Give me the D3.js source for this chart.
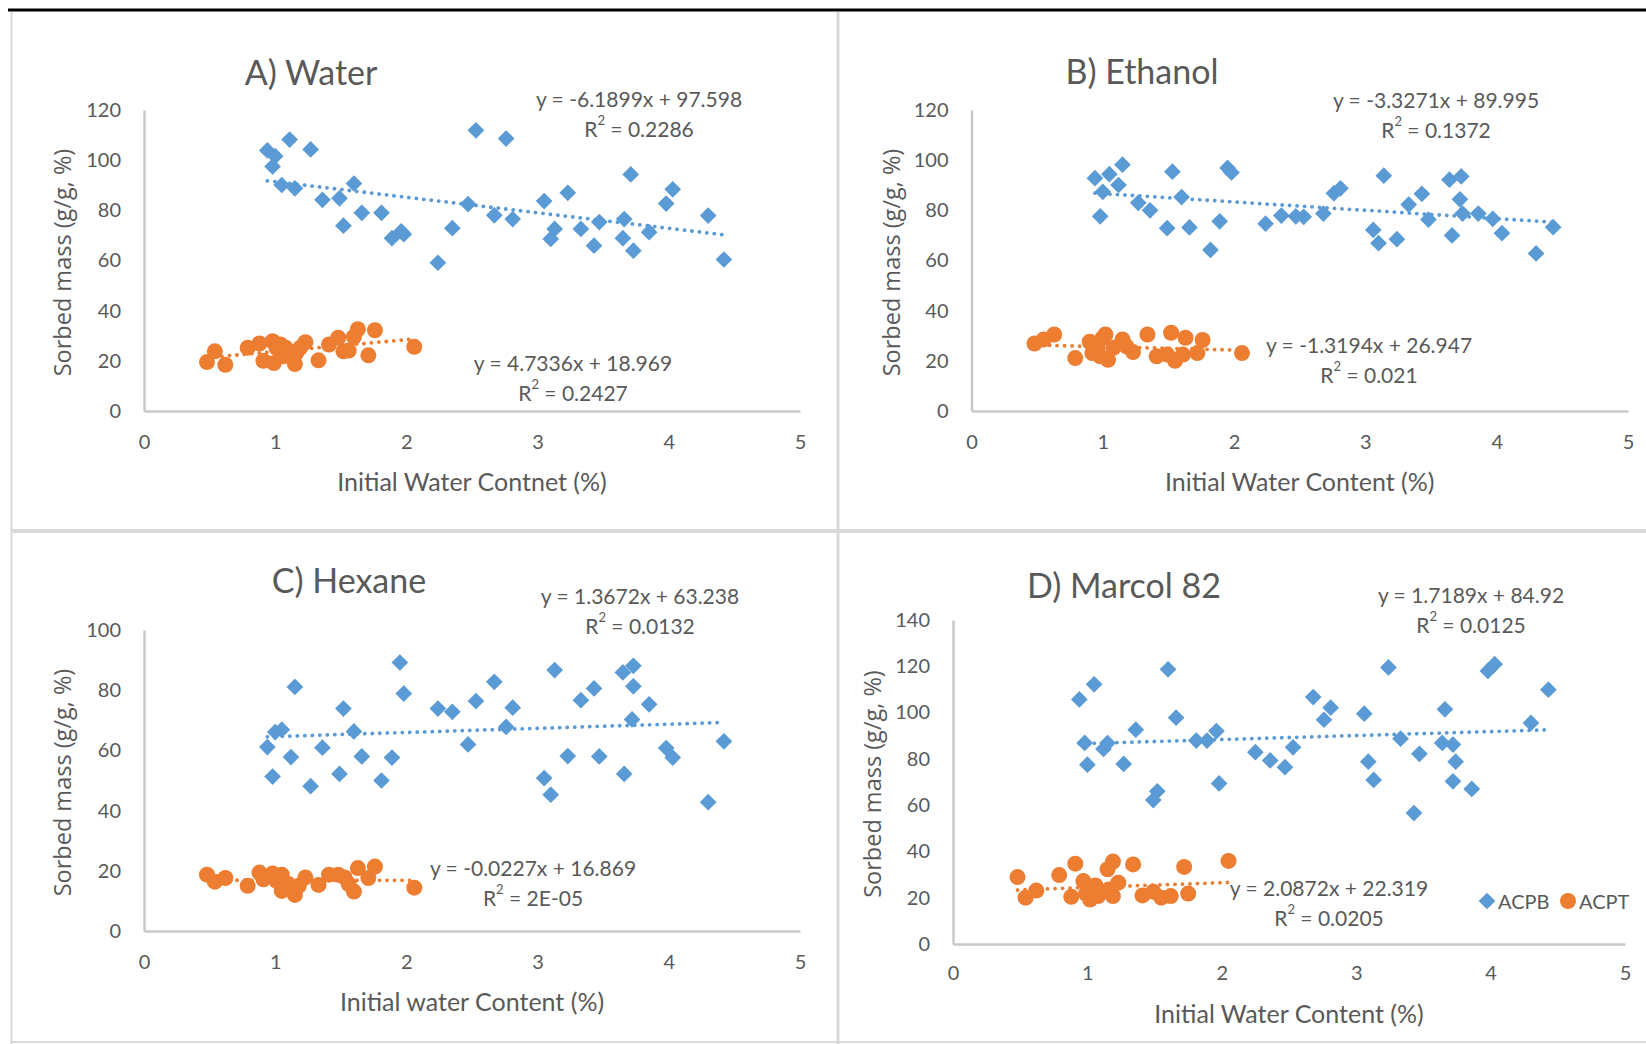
<!DOCTYPE html>
<html>
<head>
<meta charset="utf-8">
<script src="https://cdnjs.cloudflare.com/ajax/libs/d3/7.8.5/d3.min.js"></script>
<style>
  body { margin: 0; background: #fff; }
  svg { display: block; }
</style>
</head>
<body>
<svg id="chart" width="1646" height="1044"></svg>
<script>

// ---- data: [initial water content (%), sorbed mass (g/g, %)] ----

var waterACPB = [[0.94,103.9],[1.00,101.6],[0.98,97.5],[1.11,108.2],[1.27,104.3],[1.05,90.1],[1.15,88.8],
	[1.36,84.2],[1.49,84.8],[1.60,90.7],[1.52,73.9],[1.66,79.0],[1.81,79.0],[1.89,68.9],[1.96,71.6],
	[1.98,70.5],[2.24,59.1],[2.35,72.9],[2.47,82.5],[2.53,111.9],[2.76,108.6],[2.67,78.0],[2.81,76.5],
	[3.05,83.7],[3.10,68.6],[3.13,72.6],[3.23,87.0],[3.33,72.6],[3.43,65.9],[3.47,75.3],[3.65,68.9],
	[3.66,76.5],[3.71,94.3],[3.73,63.9],[3.85,71.3],[3.98,82.7],[4.03,88.4],[4.30,77.9],[4.42,60.4]];
var waterACPT = [[0.48,19.5],[0.54,23.8],[0.62,18.4],[0.79,25.2],[0.88,26.9],[0.91,20.0],[0.98,27.8],
	[0.99,19.1],[1.01,25.2],[1.04,26.5],[1.06,21.8],[1.08,25.2],[1.15,18.7],[1.16,23.1],[1.19,25.2],
	[1.23,27.4],[1.33,20.2],[1.41,26.5],[1.48,29.2],[1.52,23.8],[1.56,24.1],[1.60,29.6],[1.63,32.6],
	[1.71,22.2],[1.76,32.2],[2.06,25.6]];

var ethanolACPB = [[0.94,92.8],[1.00,87.4],[0.98,77.6],[1.05,94.4],[1.12,90.1],[1.15,98.2],[1.27,83.0],
	[1.36,80.0],[1.49,72.9],[1.53,95.4],[1.60,85.3],[1.66,73.2],[1.82,64.2],[1.89,75.6],[1.95,96.9],
	[1.98,95.1],[2.24,74.7],[2.36,77.9],[2.47,77.6],[2.53,77.4],[2.68,78.7],[2.76,86.8],[2.81,88.8],
	[3.06,72.2],[3.10,66.9],[3.14,93.8],[3.24,68.5],[3.33,82.3],[3.43,86.6],[3.48,76.3],[3.64,92.2],
	[3.66,70.0],[3.73,93.5],[3.72,84.4],[3.74,78.7],[3.86,78.7],[3.97,76.6],[4.04,70.9],[4.30,62.8],
	[4.43,73.3]];
var ethanolACPT = [[0.48,26.9],[0.55,28.5],[0.63,30.5],[0.79,21.1],[0.90,27.6],[0.92,23.1],[0.96,25.2],
	[0.98,21.8],[1.00,29.2],[1.02,30.5],[1.04,20.4],[1.08,25.2],[1.15,28.5],[1.18,25.8],[1.23,23.5],
	[1.34,30.5],[1.41,21.8],[1.49,22.5],[1.52,31.2],[1.55,20.0],[1.61,22.5],[1.63,29.2],[1.72,23.1],
	[1.76,28.3],[2.06,23.1]];

var hexaneACPB = [[0.94,61.1],[0.98,51.3],[1.00,66.1],[1.05,66.9],[1.12,57.8],[1.15,81.1],[1.27,48.1],
	[1.36,60.9],[1.49,52.2],[1.52,73.9],[1.60,66.3],[1.66,58.0],[1.81,50.0],[1.89,57.6],[1.95,89.2],
	[1.98,78.9],[2.24,73.9],[2.35,72.8],[2.47,62.0],[2.53,76.4],[2.67,82.8],[2.76,67.8],[2.81,74.2],
	[3.05,50.8],[3.10,45.3],[3.13,86.7],[3.23,58.1],[3.33,76.7],[3.43,80.6],[3.47,58.0],[3.65,85.9],
	[3.66,52.2],[3.73,88.1],[3.73,81.3],[3.72,70.3],[3.85,75.3],[3.98,60.8],[4.03,57.6],[4.30,42.8],
	[4.42,63.0]];
var hexaneACPT = [[0.48,18.7],[0.54,16.4],[0.62,17.6],[0.79,15.0],[0.88,19.4],[0.91,17.2],[0.98,19.1],
	[1.05,18.7],[1.01,16.7],[1.05,13.3],[1.10,15.6],[1.15,12.0],[1.18,15.0],[1.23,17.8],[1.33,15.3],
	[1.41,18.7],[1.48,18.7],[1.53,17.8],[1.56,15.6],[1.60,13.1],[1.63,20.9],[1.71,17.6],[1.76,21.4],
	[2.06,14.4]];

var marcolACPB = [[0.94,105.7],[0.98,86.9],[1.00,77.5],[1.05,112.2],[1.12,84.3],[1.15,86.8],[1.27,77.8],
	[1.36,92.6],[1.49,62.2],[1.52,66.0],[1.60,118.7],[1.66,97.8],[1.81,87.9],[1.89,87.9],[1.96,92.0],
	[1.98,69.4],[2.25,82.9],[2.36,79.3],[2.47,76.4],[2.53,85.0],[2.68,106.7],[2.76,96.9],[2.81,102.1],
	[3.06,99.5],[3.09,78.8],[3.13,70.9],[3.24,119.5],[3.33,88.7],[3.43,56.6],[3.47,82.2],[3.64,86.9],
	[3.66,101.4],[3.72,86.2],[3.74,78.8],[3.72,70.3],[3.86,67.0],[3.98,118.0],[4.03,120.9],[4.30,95.5],
	[4.43,109.9]];
var marcolACPT = [[0.48,28.9],[0.54,20.0],[0.62,23.1],[0.79,29.8],[0.88,20.4],[0.91,34.7],[0.97,27.2],
	[0.99,21.7],[1.02,19.2],[1.06,25.3],[1.08,20.7],[1.15,32.3],[1.19,35.6],[1.16,23.6],[1.19,20.7],
	[1.23,26.5],[1.34,34.4],[1.41,21.0],[1.49,22.6],[1.55,20.0],[1.62,20.7],[1.72,33.3],[1.75,21.8],
	[2.05,35.9]];

// linear trendlines as printed on the chart: [slope, intercept, slope text, intercept text, R2 text]
var waterTrendB   = [-6.1899, 97.598, "-6.1899", "97.598", "0.2286"];
var waterTrendT   = [4.7336, 18.969, "4.7336", "18.969", "0.2427"];
var ethanolTrendB = [-3.3271, 89.995, "-3.3271", "89.995", "0.1372"];
var ethanolTrendT = [-1.3194, 26.947, "-1.3194", "26.947", "0.021"];
var hexaneTrendB  = [1.3672, 63.238, "1.3672", "63.238", "0.0132"];
var hexaneTrendT  = [-0.0227, 16.869, "-0.0227", "16.869", "2E-05"];
var marcolTrendB  = [1.7189, 84.92, "1.7189", "84.92", "0.0125"];
var marcolTrendT  = [2.0872, 22.319, "2.0872", "22.319", "0.0205"];

var xTicks = [0, 1, 2, 3, 4, 5];
var yTicks120 = [0, 20, 40, 60, 80, 100, 120];
var yTicks100 = [0, 20, 40, 60, 80, 100];
var yTicks140 = [0, 20, 40, 60, 80, 100, 120, 140];
var seriesNames = ["ACPB", "ACPT"];

// ---- layout ----

var BLUE = "#5B9BD5", ORANGE = "#ED7D31", TEXT = "#595959", AXIS = "#C9C9C9", FRAME = "#D9D9D9";
var FONT = "Lato, 'Open Sans', sans-serif";

var panels = [
	{ title: "A) Water", xTitle: "Initial Water Contnet (%)", b: waterACPB, t: waterACPT,
		trendB: waterTrendB, trendT: waterTrendT, yTicks: yTicks120,
		x0: 144, x1: 800, y0: 411, y1: 110, titlePos: [311, 71], xTitleY: 481, yTitleX: 62, xPad: 24,
		eqB: [639, 98], eqT: [573, 362] },
	{ title: "B) Ethanol", xTitle: "Initial Water Content (%)", b: ethanolACPB, t: ethanolACPT,
		trendB: ethanolTrendB, trendT: ethanolTrendT, yTicks: yTicks120,
		x0: 971.5, x1: 1628, y0: 411, y1: 110, titlePos: [1142, 70], xTitleY: 481, yTitleX: 891, xPad: 24,
		eqB: [1436, 99], eqT: [1369, 344] },
	{ title: "C) Hexane", xTitle: "Initial water Content (%)", b: hexaneACPB, t: hexaneACPT,
		trendB: hexaneTrendB, trendT: hexaneTrendT, yTicks: yTicks100,
		x0: 144, x1: 800, y0: 931, y1: 630, titlePos: [349, 579], xTitleY: 1001, yTitleX: 62, xPad: 24,
		eqB: [640, 595], eqT: [533, 867] },
	{ title: "D) Marcol 82", xTitle: "Initial Water Content (%)", b: marcolACPB, t: marcolACPT,
		trendB: marcolTrendB, trendT: marcolTrendT, yTicks: yTicks140,
		x0: 953, x1: 1625, y0: 944, y1: 620, titlePos: [1124, 584], xTitleY: 1013, yTitleX: 872, xPad: 22,
		eqB: [1471, 594], eqT: [1329, 887], legend: [1487, 901] }
];

var svg = d3.select("#chart");

// frame lines
svg.append("line").attr("x1", 8).attr("x2", 1646).attr("y1", 10).attr("y2", 10)
	.attr("stroke", "#000").attr("stroke-width", 3);
svg.append("line").attr("x1", 11.5).attr("x2", 11.5).attr("y1", 12).attr("y2", 1044)
	.attr("stroke", FRAME).attr("stroke-width", 2);
svg.append("line").attr("x1", 838).attr("x2", 838).attr("y1", 12).attr("y2", 1044)
	.attr("stroke", FRAME).attr("stroke-width", 3);
svg.append("line").attr("x1", 11).attr("x2", 1646).attr("y1", 531).attr("y2", 531)
	.attr("stroke", FRAME).attr("stroke-width", 4);
svg.append("line").attr("x1", 11).attr("x2", 1646).attr("y1", 1042).attr("y2", 1042)
	.attr("stroke", FRAME).attr("stroke-width", 2);

var diamond = d3.symbol().type(d3.symbolSquare).size(140);
var circle = d3.symbol().type(d3.symbolCircle).size(Math.PI * 8 * 8);

function trendText(sel, tr, pos) {
	sel.append("text")
		.attr("x", pos[0]).attr("y", pos[1])
		.attr("text-anchor", "middle").attr("dominant-baseline", "central")
		.style("font-family", FONT).style("font-size", "21px").style("fill", TEXT)
		.text("y = " + tr[2] + "x + " + tr[3]);
	var t2 = sel.append("text")
		.attr("x", pos[0]).attr("y", pos[1] + 29.5)
		.attr("text-anchor", "middle").attr("dominant-baseline", "central")
		.style("font-family", FONT).style("font-size", "21px").style("fill", TEXT);
	t2.append("tspan").text("R");
	t2.append("tspan").attr("baseline-shift", "super").style("font-size", "13px").text("2");
	t2.append("tspan").text(" = " + tr[4]);
}

panels.forEach(function(p) {

	var g = svg.append("g");

	var x = d3.scaleLinear().domain([0, 5]).range([p.x0, p.x1]);
	var y = d3.scaleLinear().domain([0, d3.max(p.yTicks)]).range([p.y0, p.y1]);

	var xAxis = d3.axisBottom(x).tickValues(xTicks).tickSize(0).tickSizeOuter(0).tickPadding(p.xPad).tickFormat(d3.format("d"));
	var yAxis = d3.axisLeft(y).tickValues(p.yTicks).tickSize(0).tickSizeOuter(0).tickPadding(23).tickFormat(d3.format("d"));

	g.append("g").attr("transform", "translate(0," + p.y0 + ")").call(xAxis);
	g.append("g").attr("transform", "translate(" + p.x0 + ",0)").call(yAxis);

	g.selectAll(".domain").attr("stroke", AXIS).attr("stroke-width", 2.5);
	g.selectAll(".tick text")
		.style("font-family", FONT).style("font-size", "20px").style("fill", TEXT);

	// titles
	g.append("text")
		.attr("x", p.titlePos[0]).attr("y", p.titlePos[1])
		.attr("text-anchor", "middle").attr("dominant-baseline", "central")
		.style("font-family", FONT).style("font-size", "34px").style("fill", TEXT)
		.text(p.title);

	g.append("text")
		.attr("x", (p.x0 + p.x1) / 2).attr("y", p.xTitleY)
		.attr("text-anchor", "middle").attr("dominant-baseline", "central")
		.style("font-family", FONT).style("font-size", "25px").style("fill", TEXT)
		.text(p.xTitle);

	g.append("text")
		.attr("transform", "translate(" + p.yTitleX + "," + ((p.y0 + p.y1) / 2 + 2) + ") rotate(-90)")
		.attr("text-anchor", "middle").attr("dominant-baseline", "central")
		.style("font-family", "'Open Sans', sans-serif").style("font-size", "23.5px").style("fill", TEXT)
		.text("Sorbed mass (g/g, %)");

	// trendlines (dotted)
	[[p.b, p.trendB, BLUE], [p.t, p.trendT, ORANGE]].forEach(function(s) {
		var ext = d3.extent(s[0], function(d) { return d[0]; });
		var line = d3.line()
			.x(function(v) { return x(v); })
			.y(function(v) { return y(s[1][0] * v + s[1][1]); });
		g.append("path")
			.attr("d", line(ext))
			.attr("fill", "none")
			.attr("stroke", s[2])
			.attr("stroke-width", 3.8)
			.attr("stroke-linecap", "round")
			.attr("stroke-dasharray", "0.1 7.4");
	});

	// markers
	g.selectAll("path.acpb")
		.data(p.b)
		.enter().append("path")
		.attr("class", "acpb")
		.attr("d", diamond)
		.attr("transform", function(d) { return "translate(" + x(d[0]) + "," + y(d[1]) + ") rotate(45)"; })
		.attr("fill", BLUE);

	g.selectAll("path.acpt")
		.data(p.t)
		.enter().append("path")
		.attr("class", "acpt")
		.attr("d", circle)
		.attr("transform", function(d) { return "translate(" + x(d[0]) + "," + y(d[1]) + ")"; })
		.attr("fill", ORANGE);

	trendText(g, p.trendB, p.eqB);
	trendText(g, p.trendT, p.eqT);

	// legend
	if (p.legend) {
		var lg = g.append("g").attr("transform", "translate(" + p.legend[0] + "," + p.legend[1] + ")");
		var items = [[seriesNames[0], diamond, BLUE, 0, 45], [seriesNames[1], circle, ORANGE, 81, 0]];
		items.forEach(function(it) {
			lg.append("path")
				.attr("d", it[1])
				.attr("transform", "translate(" + it[3] + ",0) rotate(" + it[4] + ")")
				.attr("fill", it[2]);
			lg.append("text")
				.attr("x", it[3] + 11).attr("y", 0)
				.attr("dominant-baseline", "central")
				.style("font-family", FONT).style("font-size", "20px").style("fill", TEXT)
				.text(it[0]);
		});
	}
});

</script>
</body>
</html>
